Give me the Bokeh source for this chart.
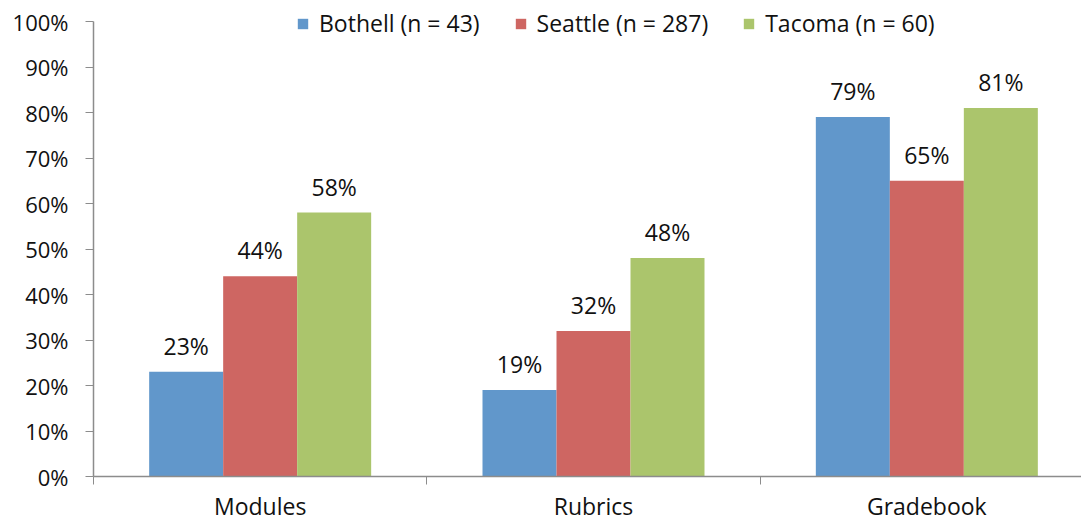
from bokeh.plotting import figure
from bokeh.models import (ColumnDataSource, FixedTicker, NumeralTickFormatter,
                          Legend, LegendItem, Range1d)
from bokeh.core.properties import value
from bokeh.embed import file_html
from bokeh.resources import INLINE

categories = ["Modules", "Rubrics", "Gradebook"]
series = ["Bothell (n = 43)", "Seattle (n = 287)", "Tacoma (n = 60)"]
bothell = [0.23, 0.19, 0.79]
seattle = [0.44, 0.32, 0.65]
tacoma = [0.58, 0.48, 0.81]
colors = ["#6197CB", "#CE6662", "#ABC56C"]

FONT = "Open Sans"
FS = "23px"
bar_w = 0.222

# a little headroom above 100% so the legend fits inside the frame
p = figure(frame_width=988, frame_height=468, output_backend="svg",
           toolbar_location=None,
           x_range=Range1d(0, 2.964), y_range=Range1d(0, 1.0286),
           min_border_left=93, min_border_right=0, min_border_top=8,
           min_border_bottom=40)
p.outline_line_color = None
p.xgrid.visible = False
p.ygrid.visible = False
p.background_fill_color = "white"
p.border_fill_color = "white"

centers = [i + 0.5 for i in range(len(categories))]
items = []
for k, (name, vals, col) in enumerate(zip(series, [bothell, seattle, tacoma], colors)):
    xs = [c + (k - 1) * bar_w for c in centers]
    src = ColumnDataSource(dict(x=xs, top=vals,
                                lab=[f"{round(v * 100)}%" for v in vals]))
    r = p.vbar(x="x", top="top", width=bar_w, bottom=0, source=src,
               fill_color=col, line_color=None)
    p.text(x="x", y="top", text="lab", source=src, text_align="center",
           text_baseline="middle", y_offset=-26, text_font=value(FONT),
           text_font_size=FS, text_color="#111111")
    items.append(LegendItem(label=name, renderers=[r]))

legend = Legend(items=items, orientation="horizontal", location=(203, 437),
                label_text_font=FONT, label_text_font_size=FS,
                label_text_color="#111111", glyph_width=13, glyph_height=13,
                spacing=34, label_standoff=10, padding=0, margin=0,
                background_fill_alpha=0, border_line_color=None)
p.add_layout(legend, "center")

# y axis
p.yaxis.ticker = FixedTicker(ticks=[i / 10 for i in range(11)], minor_ticks=[])
p.yaxis.bounds = (0, 1)
p.yaxis.formatter = NumeralTickFormatter(format="0%")
p.yaxis.axis_line_color = "#8c8c8c"
p.yaxis.axis_line_width = 1.5
p.yaxis.major_tick_line_color = "#8c8c8c"
p.yaxis.major_tick_out = 8
p.yaxis.major_tick_in = 0
p.yaxis.major_label_text_font = FONT
p.yaxis.major_label_text_font_size = "22px"
p.yaxis.major_label_text_color = "#111111"
p.yaxis.major_label_standoff = 17

# x axis: labels at group centres, boundary ticks via minor ticks
p.xaxis.ticker = FixedTicker(ticks=centers, minor_ticks=[0, 1, 2, 3])
p.xaxis.major_label_overrides = {c: n for c, n in zip(centers, categories)}
p.xaxis.axis_line_color = "#8c8c8c"
p.xaxis.axis_line_width = 1.5
p.xaxis.major_tick_line_color = None
p.xaxis.major_tick_out = 0
p.xaxis.minor_tick_line_color = "#8c8c8c"
p.xaxis.minor_tick_out = 8
p.xaxis.minor_tick_in = 0
p.xaxis.major_label_text_font = FONT
p.xaxis.major_label_text_font_size = FS
p.xaxis.major_label_text_color = "#111111"
p.xaxis.major_label_standoff = 5

open("out.html", "w").write(file_html(p, INLINE))
